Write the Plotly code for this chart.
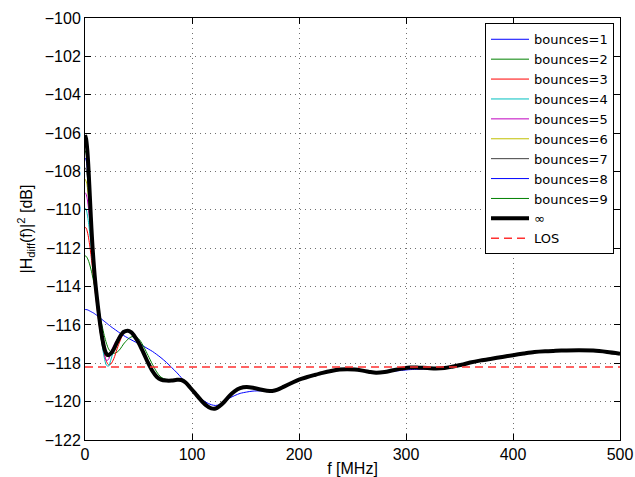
import plotly.graph_objects as go

f_grid = [0,1,2,3,4,5,6,7,8,9,10,12,14,16,18,20,22,24,27,30,33,36,40,43,47,51,55,59,63,67,71,76,81,86,90,94,98,
          103,108,113,118,122,126,130,135,140,145,151,157,164,170,175,180,186,193,200,207,214,222,230,238,245,252,258,265,272,280,
          288,296,304,312,320,328,336,344,352,360,370,380,390,400,410,420,430,440,450,462,475,488,500]

inf_vals = [-106.1,-106.3,-106.8,-107.6,-108.7,-109.85,-110.95,-111.9,-112.7,-113.4,-114.0,
            -115.0,-115.9,-116.65,-117.2,-117.5,-117.58,-117.5,
            -117.25,-116.9,-116.58,-116.37,-116.3,
            -116.38,-116.65,-117.02,-117.5,-117.98,-118.4,-118.7,-118.85,-118.9,-118.9,-118.86,-118.87,-119.0,-119.25,
            -119.57,-119.9,-120.18,-120.35,-120.36,-120.22,-120.02,-119.7,-119.45,-119.3,
            -119.24,-119.28,-119.37,-119.43,-119.45,-119.38,-119.22,-119.03,-118.85,
            -118.73,-118.62,-118.5,-118.4,-118.33,-118.31,-118.33,-118.37,-118.44,-118.5,-118.46,
            -118.36,-118.28,-118.22,-118.23,-118.25,-118.27,-118.25,-118.17,-118.08,-117.96,
            -117.85,-117.76,-117.67,-117.58,-117.49,-117.41,-117.37,-117.35,-117.33,-117.32,-117.34,-117.41,-117.5]

b1_vals = [-115.2,-115.2,-115.21,-115.23,-115.26,-115.29,-115.32,-115.35,-115.38,-115.42,-115.46,
           -115.54,-115.63,-115.72,-115.81,-115.9,-115.99,-116.08,
           -116.2,-116.32,-116.44,-116.55,-116.68,
           -116.77,-116.89,-117.0,-117.12,-117.25,-117.38,-117.54,-117.71,-117.95,-118.22,-118.5,-118.75,-119.0,-119.25,
           -119.55,-119.82,-120.03,-120.16,-120.2,-120.15,-120.0,-119.82,-119.68,-119.57,
           -119.5,-119.45,-119.44,-119.45,-119.45,-119.38,-119.23,-119.05,-118.88,
           -118.76,-118.65,-118.53,-118.43,-118.37,-118.35,-118.36,-118.4,-118.45,-118.5,-118.48,
           -118.42,-118.37,-118.33,-118.31,-118.3,-118.29,-118.26,-118.18,-118.08,-117.95,
           -117.83,-117.72,-117.62,-117.55,-117.48,-117.42,-117.38,-117.35,-117.33,-117.32,-117.34,-117.41,-117.5]

b2_head = [-112.4,-112.42,-112.5,-112.62,-112.78,-112.98,-113.2,-113.45,-113.72,-114.0,-114.3,
           -114.9,-115.5,-116.05,-116.55,-116.95,-117.25,-117.4,
           -117.48,-117.42,-117.25,-117.0,-116.75,
           -116.63,-116.6,-116.78,-117.15,-117.6,-118.05,-118.45,-118.72,-118.85,-118.92,-118.9,-118.86]
b3_head = [-110.9,-110.95,-111.1,-111.35,-111.7,-112.1,-112.55,-113.0,-113.5,-114.0,-114.5,
           -115.45,-116.3,-117.0,-117.55,-117.9,-118.08,-118.05,
           -117.75,-117.25,-116.8,-116.45,-116.3]
b4_head = [-109.9,-109.97,-110.2,-110.55,-111.0,-111.5,-112.05,-112.6,-113.15,-113.7,-114.25,
           -115.3,-116.25,-117.05,-117.7,-118.1,-118.15,-117.85,
           -117.3,-116.9,-116.6,-116.38,-116.3]
b5_head = [-109.1,-109.18,-109.4,-109.8,-110.3,-110.85,-111.45,-112.05,-112.65,-113.25,-113.85,
           -114.95,-115.95,-116.8,-117.45,-117.85,-117.8,-117.45,
           -117.05,-116.75,-116.5,-116.35,-116.3]
b6_head = [-108.4,-108.5,-108.75,-109.2,-109.75,-110.35,-111.0,-111.65,-112.3,-112.95,-113.6,
           -114.8,-115.85,-116.75,-117.35,-117.65,-117.6,-117.4,
           -117.2,-116.88,-116.57,-116.37,-116.3]
b7_head = [-107.8,-107.9,-108.2,-108.7,-109.4,-110.2,-111.1,-111.9,-112.65,-113.35,-113.95,
           -115.0,-115.9,-116.7,-117.3,-117.6,-117.62,-117.5]
b8_head = [-107.3,-107.4,-107.8,-108.4,-109.2,-110.1,-111.05,-111.9,-112.7,-113.4,-114.0,
           -115.0,-115.9,-116.65,-117.25,-117.55,-117.6,-117.5]
b9_head = [-106.9,-107.05,-107.45,-108.1,-109.0,-110.0,-111.0,-111.9,-112.7,-113.4,-114.0]

los_value = -118.2
x_ticks = [0, 100, 200, 300, 400, 500]
y_ticks = list(range(-122, -99, 2))

def full(head):
    return head + inf_vals[len(head):]

series = [
    ("bounces=1", b1_vals, "#0000ff", 1),
    ("bounces=2", full(b2_head), "#008000", 1),
    ("bounces=3", full(b3_head), "#ff0000", 1),
    ("bounces=4", full(b4_head), "#00bfbf", 1),
    ("bounces=5", full(b5_head), "#bf00bf", 1),
    ("bounces=6", full(b6_head), "#bfbf00", 1),
    ("bounces=7", full(b7_head), "#404040", 1),
    ("bounces=8", full(b8_head), "#0000ff", 1),
    ("bounces=9", full(b9_head), "#008000", 1),
    ("∞", inf_vals, "#000000", 4),
]

fig = go.Figure()
for name, vals, color, w in series:
    fig.add_trace(go.Scatter(x=f_grid, y=vals, mode="lines", name=name,
                             line=dict(color=color, width=w, shape="spline", smoothing=0.8)))
fig.add_trace(go.Scatter(x=[x_ticks[0], x_ticks[-1]], y=[los_value, los_value], mode="lines", name="LOS",
                         line=dict(color="#ff3030", width=1.5, dash="8px,5px")))

font = "Liberation Sans, Arial, Helvetica, sans-serif"
legend_font = "DejaVu Sans, Liberation Sans, sans-serif"
axis_common = dict(showline=True, linecolor="black", linewidth=1, mirror="ticks",
                   ticks="inside", ticklen=6, tickcolor="black", tickwidth=1,
                   showgrid=True, gridcolor="#707070", gridwidth=1, griddash="1px,4px",
                   zeroline=False, automargin=False,
                   tickfont=dict(size=16, color="black", family=font))

fig.update_layout(
    template="none",
    width=635, height=477,
    margin=dict(l=85, r=15, t=18, b=37, pad=0),
    paper_bgcolor="white", plot_bgcolor="white",
    font=dict(family=font, size=16, color="black"),
    showlegend=True,
    legend=dict(x=0.9888, y=0.9874, xanchor="right", yanchor="top",
                bordercolor="black", borderwidth=1, bgcolor="white",
                font=dict(size=13, family=legend_font, color="black"), tracegroupgap=0,
                itemwidth=38),
    xaxis=dict(range=[0, 500], tickvals=x_ticks,
               title=dict(text="f [MHz]", standoff=0, font=dict(size=16, family=font)), **axis_common),
    yaxis=dict(range=[-122, -100], tickvals=y_ticks,
               title=dict(text="|H<sub>diff</sub>(f)|<sup>2</sup> [dB]", standoff=8, font=dict(size=16, family=font)),
               **axis_common),
)

fig.write_html("out.html")
